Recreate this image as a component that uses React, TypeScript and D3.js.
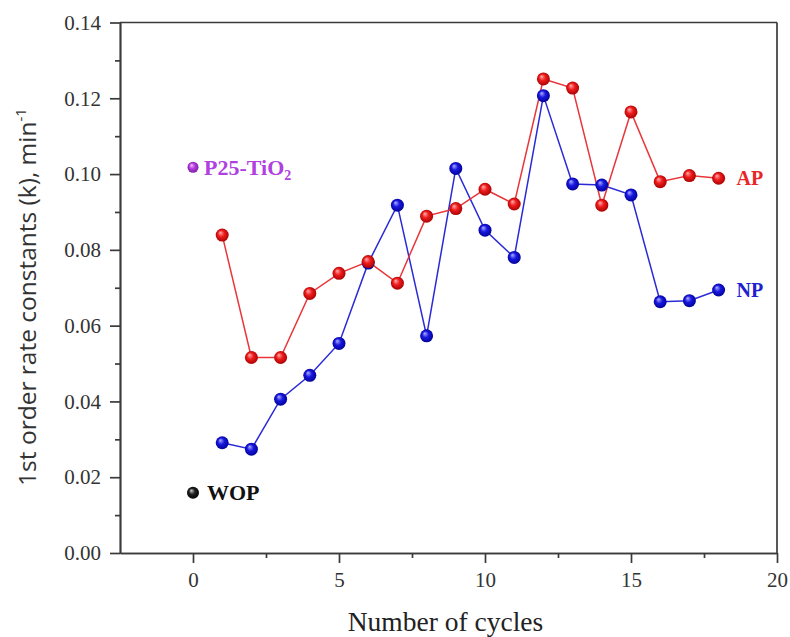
import React, { useEffect, useRef } from 'react';
import * as d3 from 'd3';

// cycle numbers and first-order rate constants
const cycles = [1, 2, 3, 4, 5, 6, 7, 8, 9, 10, 11, 12, 13, 14, 15, 16, 17, 18];
const apValues = [0.0839, 0.0516, 0.0516, 0.0685, 0.0738, 0.0769, 0.0712, 0.0889, 0.0909, 0.096, 0.0921, 0.1251, 0.1227, 0.0918, 0.1164, 0.098, 0.0996, 0.0989];
const npValues = [0.0291, 0.0274, 0.0406, 0.0469, 0.0553, 0.0765, 0.0918, 0.0573, 0.1015, 0.0852, 0.078, 0.1207, 0.0974, 0.0971, 0.0945, 0.0663, 0.0666, 0.0694];

// single reference points at cycle 0
const refNames = ['P25-TiO', 'WOP'];
const refCycles = [0, 0];
const refValues = [0.1018, 0.0159];

const xTicks = [0, 5, 10, 15, 20];
const xMinorTicks = [2.5, 7.5, 12.5, 17.5];
const yTicks = [0, 0.02, 0.04, 0.06, 0.08, 0.1, 0.12, 0.14];
const yMinorTicks = [0.01, 0.03, 0.05, 0.07, 0.09, 0.11, 0.13];

const W = 790;
const H = 637;
const left = 120, right = 777, top = 22.5, bottom = 553;
const serif = '"Liberation Serif", "Times New Roman", serif';

export default function App() {
  const svgRef = useRef<SVGSVGElement>(null);

  useEffect(() => {
    const svg = d3.select(svgRef.current);
    svg.selectAll('*').remove();

    const x = d3.scaleLinear().domain([-2.5, 20]).range([left, right]);
    const y = d3.scaleLinear().domain([0, 0.14]).range([bottom, top]);

    // sphere-like gradients for the markers
    const defs = svg.append('defs');
    const balls = [
      { id: 'ballRed', hi: '#ffb0b0', mid: '#f01c1c', lo: '#a00000' },
      { id: 'ballBlue', hi: '#b0b0ff', mid: '#1818e0', lo: '#000090' },
      { id: 'ballViolet', hi: '#f4c8ff', mid: '#b43ee0', lo: '#7a1aa0' },
      { id: 'ballBlack', hi: '#d0d0d0', mid: '#202020', lo: '#000000' },
    ];
    balls.forEach(b => {
      const g = defs.append('radialGradient')
        .attr('id', b.id)
        .attr('cx', '0.5').attr('cy', '0.5').attr('r', '0.55')
        .attr('fx', '0.35').attr('fy', '0.3');
      g.append('stop').attr('offset', '0').attr('stop-color', b.hi);
      g.append('stop').attr('offset', '0.45').attr('stop-color', b.mid);
      g.append('stop').attr('offset', '1').attr('stop-color', b.lo);
    });

    const axisColor = '#3a3a3a';

    // Add axes
    const yAxis = svg.append('g')
      .attr('transform', `translate(${left},0)`)
      .call(d3.axisLeft(y).tickValues(yTicks).tickSize(10).tickSizeOuter(0).tickPadding(9)
        .tickFormat(d3.format('.2f')));
    svg.append('g')
      .attr('transform', `translate(${left},0)`)
      .call(d3.axisLeft(y).tickValues(yMinorTicks).tickSize(5).tickSizeOuter(0).tickFormat(() => ''));

    const xAxis = svg.append('g')
      .attr('transform', `translate(0,${bottom})`)
      .call(d3.axisBottom(x).tickValues(xTicks).tickSize(10).tickSizeOuter(0).tickPadding(9)
        .tickFormat(d3.format('d')));
    svg.append('g')
      .attr('transform', `translate(0,${bottom})`)
      .call(d3.axisBottom(x).tickValues(xMinorTicks).tickSize(5).tickSizeOuter(0).tickFormat(() => ''));

    svg.selectAll('.domain, .tick line')
      .attr('stroke', axisColor)
      .attr('stroke-width', 1.7);
    [yAxis, xAxis].forEach(a => a.selectAll('text')
      .attr('font-family', serif)
      .attr('font-size', 21)
      .attr('fill', '#333'));

    // frame: top and right
    svg.append('line')
      .attr('x1', left).attr('x2', right).attr('y1', top).attr('y2', top)
      .attr('stroke', axisColor).attr('stroke-width', 1.7);
    svg.append('line')
      .attr('x1', right).attr('x2', right).attr('y1', top).attr('y2', bottom)
      .attr('stroke', axisColor).attr('stroke-width', 1.7);

    // axis titles
    svg.append('text')
      .attr('x', (left + right) / 2 - 3)
      .attr('y', 631)
      .attr('text-anchor', 'middle')
      .attr('font-family', serif)
      .attr('font-size', 27.5)
      .attr('fill', '#222')
      .text('Number of cycles');

    const yTitle = svg.append('text')
      .attr('transform', 'translate(36,297) rotate(-90)')
      .attr('text-anchor', 'middle')
      .attr('font-family', '"Open Sans", "Noto Sans", sans-serif')
      .attr('font-size', 24.5)
      .attr('fill', '#333');
    yTitle.append('tspan').text('1st order rate constants (k), min');
    yTitle.append('tspan').attr('dy', -10).attr('font-size', 15).text('-1');

    // Draw the series
    const line = d3.line<number>()
      .x((d, i) => x(cycles[i]))
      .y(d => y(d));

    svg.append('path')
      .datum(npValues)
      .attr('fill', 'none')
      .attr('stroke', '#2a2ad6')
      .attr('stroke-width', 1.5)
      .attr('d', line);
    svg.append('path')
      .datum(apValues)
      .attr('fill', 'none')
      .attr('stroke', '#e8363a')
      .attr('stroke-width', 1.5)
      .attr('d', line);

    const r = 6.5;
    svg.append('g').selectAll('circle')
      .data(npValues)
      .join('circle')
      .attr('cx', (d, i) => x(cycles[i]))
      .attr('cy', d => y(d))
      .attr('r', r)
      .attr('fill', 'url(#ballBlue)');
    svg.append('g').selectAll('circle')
      .data(apValues)
      .join('circle')
      .attr('cx', (d, i) => x(cycles[i]))
      .attr('cy', d => y(d))
      .attr('r', r)
      .attr('fill', 'url(#ballRed)');

    // series labels
    const last = cycles.length - 1;
    svg.append('text')
      .attr('x', x(cycles[last]) + 18).attr('y', y(apValues[last]) + 7)
      .attr('font-family', serif).attr('font-weight', 'bold').attr('font-size', 20)
      .attr('fill', '#e8262a')
      .text('AP');
    svg.append('text')
      .attr('x', x(cycles[last]) + 18).attr('y', y(npValues[last]) + 7)
      .attr('font-family', serif).attr('font-weight', 'bold').attr('font-size', 20)
      .attr('fill', '#2020d0')
      .text('NP');

    // reference points
    const refFills = ['url(#ballViolet)', 'url(#ballBlack)'];
    const refColors = ['#b040e0', '#111'];
    refNames.forEach((name, i) => {
      svg.append('circle')
        .attr('cx', x(refCycles[i]))
        .attr('cy', y(refValues[i]))
        .attr('r', i === 0 ? 5.5 : 6)
        .attr('fill', refFills[i]);
      const t = svg.append('text')
        .attr('x', x(refCycles[i]) + (i === 0 ? 11 : 14))
        .attr('y', y(refValues[i]) + 7.5)
        .attr('font-family', serif)
        .attr('font-weight', 'bold')
        .attr('font-size', 22)
        .attr('fill', refColors[i]);
      t.append('tspan').text(name);
      if (i === 0) t.append('tspan').attr('dy', 5).attr('font-size', 14).text('2');
    });
  }, []);

  return (
    <div style={{ position: 'absolute', left: 0, top: 0 }}>
      <svg ref={svgRef} width={W} height={H} style={{ display: 'block', background: '#fff' }}></svg>
    </div>
  );
}
